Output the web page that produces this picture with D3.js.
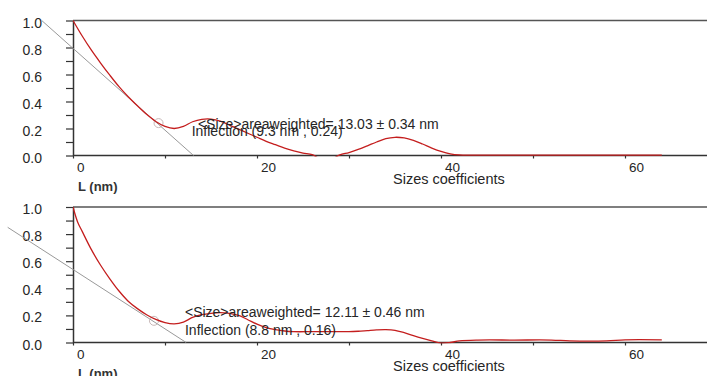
<!DOCTYPE html>
<html><head><meta charset="utf-8">
<script src="https://cdn.jsdelivr.net/npm/d3@7"></script>
<style>
html,body{margin:0;padding:0;background:#fff;}
svg{display:block;font-family:"Liberation Sans",Arial,sans-serif;}
</style></head>
<body>
<svg id="chart" width="707" height="376"></svg>
<script>
// ---- data ----
const xTicks = [0,10,20,30,40,50,60];
const xTickLabels = ["0","","20","","40","","60"];
const yTicks = [0,0.1,0.2,0.3,0.4,0.5,0.6,0.7,0.8,0.9,1.0];
const yTickLabels = ["0.0","","0.2","","0.4","","0.6","","0.8","","1.0"];

const topL = [0,1,2,3,4,5,6,7,8,9,10,11,12,13,14,15,16,17,18,19,20,21,22,23,24,25,26,27,28,29,30,31,32,33,34,35,36,37,38,39,40,41,42,44,48,52,56,60,64];
const topV = [1.0,0.885,0.78,0.685,0.595,0.51,0.435,0.368,0.305,0.252,0.215,0.2,0.215,0.25,0.268,0.27,0.255,0.225,0.195,0.165,0.135,0.105,0.08,0.055,0.035,0.018,0.006,-0.03,-0.03,0.004,0.022,0.045,0.072,0.1,0.125,0.135,0.13,0.112,0.085,0.055,0.03,0.012,0.004,0.003,0.003,0.003,0.003,0.003,0.003];
const topTangent = [[-3.4,1.0],[13.1,0]];
const topInflection = [9.3,0.24];
const topSizeText = "<Size>areaweighted= 13.03 ± 0.34 nm";
const topInflText = "Inflection (9.3 nm , 0.24)";

const botL = [0,0.5,1,2,3,4,5,6,7,8,9,10,11,12,13,14,15,16,17,18,19,20,21,22,23,24,26,28,30,31,32,33,34,35,36,37,38,39,40,41,42,44,48,52,54,58,60,64];
const botV = [1.0,0.89,0.82,0.685,0.57,0.47,0.38,0.305,0.25,0.205,0.17,0.147,0.138,0.15,0.185,0.205,0.215,0.22,0.215,0.2,0.168,0.135,0.11,0.095,0.085,0.08,0.08,0.08,0.08,0.083,0.088,0.093,0.095,0.09,0.072,0.05,0.03,0.012,-0.004,0.0,0.012,0.018,0.018,0.018,0.012,0.012,0.02,0.02];
const botTangent = [[-7.1,0.85],[12.3,0]];
const botInflection = [8.8,0.16];
const botSizeText = "<Size>areaweighted= 12.11 ± 0.46 nm";
const botInflText = "Inflection (8.8 nm , 0.16)";

const xAxisTitle = "L (nm)";
const xAxisTitle2 = "Sizes coefficients";

// ---- drawing ----
const W = 707;
const svg = d3.select("#chart");
const x = d3.scaleLinear().domain([0,60]).range([73,625]);
const textCol = "#262626";

function panel(id, yBottom, yTop, Ls, Vs, tangent, infl, sizeText, inflText, sizePos, inflPos){
  const y = d3.scaleLinear().domain([0,1]).range([yBottom,yTop]);
  const g = svg.append("g");

  svg.append("clipPath").attr("id","clip"+id).append("rect")
    .attr("x",x(0)).attr("y",y(1)-2).attr("width",W-x(0)).attr("height",y(0)-y(1)+3);

  g.append("line").attr("x1",x(0)).attr("x2",W).attr("y1",y(1)).attr("y2",y(1))
    .attr("stroke","#555").attr("stroke-width",1.5);

  const ya = g.append("g").attr("transform",`translate(${x(0)},0)`)
    .call(d3.axisLeft(y).tickValues(yTicks).tickSize(7).tickSizeOuter(0)
      .tickFormat((d,i)=>yTickLabels[i]).tickPadding(24));
  ya.select(".domain").attr("stroke","#333").attr("stroke-width",1.5);
  ya.selectAll(".tick line").attr("stroke","#333").attr("stroke-width",1.2);
  ya.selectAll(".tick text").attr("dy",null).attr("y",6.5)
    .attr("font-size",14).attr("fill",textCol).attr("font-family",null);

  const xa = g.append("g").attr("transform",`translate(0,${y(0)})`)
    .call(d3.axisBottom(x).tickValues(xTicks).tickSize(3).tickSizeOuter(0)
      .tickFormat((d,i)=>xTickLabels[i]));
  xa.select(".domain").remove();
  xa.selectAll(".tick line").attr("stroke","#333").attr("stroke-width",1.2);
  xa.selectAll(".tick text").attr("dy",null).attr("y",16).attr("x",3.5)
    .attr("text-anchor","start").attr("font-size",13.5).attr("fill",textCol).attr("font-family",null);
  g.append("line").attr("x1",x(0)).attr("x2",W).attr("y1",y(0)).attr("y2",y(0))
    .attr("stroke","#333").attr("stroke-width",1.5);

  g.append("text").attr("x",x(0)+5).attr("y",y(0)+35).attr("font-size",13)
    .attr("font-weight","bold").attr("fill","#333").text(xAxisTitle);
  g.append("text").attr("x",x(35)-2).attr("y",y(0)+28).attr("font-size",14.5)
    .attr("fill",textCol).text(xAxisTitle2);

  g.append("line").attr("x1",x(tangent[0][0])).attr("y1",y(tangent[0][1]))
    .attr("x2",x(tangent[1][0])).attr("y2",y(tangent[1][1]))
    .attr("stroke","#999").attr("stroke-width",1);

  g.append("circle").attr("cx",x(infl[0])).attr("cy",y(infl[1])).attr("r",4.5)
    .attr("fill","none").attr("stroke","#c8b8b8").attr("stroke-width",1);

  const pts = Ls.map((l,i)=>[l,Vs[i]]);
  g.append("path").datum(pts).attr("clip-path",`url(#clip${id})`)
    .attr("d",d3.line().x(d=>x(d[0])).y(d=>y(d[1])).curve(d3.curveCatmullRom.alpha(0.5)))
    .attr("fill","none").attr("stroke","#c41e1e").attr("stroke-width",1.3);

  g.append("text").attr("x",x(inflPos[0])).attr("y",y(inflPos[1])).attr("font-size",14)
    .attr("fill",textCol).text(inflText);
  g.append("text").attr("x",x(sizePos[0])).attr("y",y(sizePos[1])).attr("font-size",14)
    .attr("fill",textCol).text(sizeText);
}

panel(1, 155.5, 20.5, topL, topV, topTangent, topInflection, topSizeText, topInflText,
  [13.58, 0.196], [12.9, 0.144]);
panel(2, 342.5, 207, botL, botV, botTangent, botInflection, botSizeText, botInflText,
  [12.17, 0.185], [12.17, 0.055]);
</script>
</body></html>
